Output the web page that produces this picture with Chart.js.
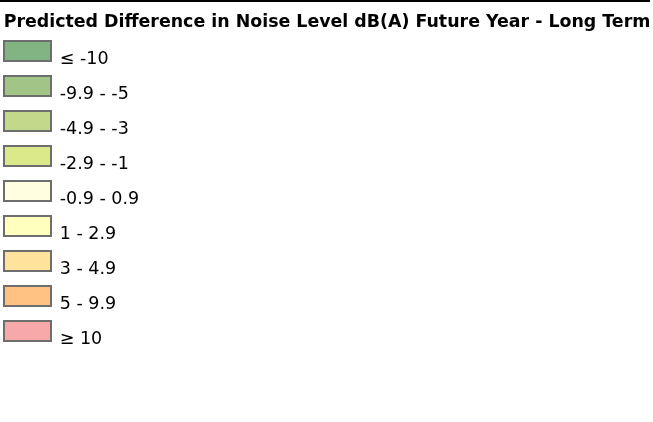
<!DOCTYPE html>
<html>
<head>
<meta charset="utf-8">
<script src="https://cdn.jsdelivr.net/npm/chart.js@4/dist/chart.umd.min.js"></script>
<style>
  html, body { margin: 0; padding: 0; background: #fff; overflow: hidden; }
  body { width: 653px; height: 422px; position: relative; }
  .linea-superior { position: absolute; left: 0; top: 0; width: 650px; height: 2px; background: #000; }
  .contenedor { position: absolute; left: -11px; top: 0; width: 676px; height: 422px; }
</style>
</head>
<body>
<div class="linea-superior"></div>
<div class="contenedor"><canvas id="leyenda"></canvas></div>
<script>
const titulo = 'Predicted Difference in Noise Level dB(A) Future Year - Long Term';

const clases = ['≤ -10', '-9.9 - -5', '-4.9 - -3', '-2.9 - -1', '-0.9 - 0.9', '1 - 2.9', '3 - 4.9', '5 - 9.9', '≥ 10'];

const coloresRelleno = ['#82b483', '#a3c487', '#c2d98b', '#dce98a', '#fffee0', '#ffffbe', '#ffe29c', '#ffc283', '#f7a9a9'];

const colorBorde = '#6e6e6e';

const fuenteEtiqueta = { family: 'DejaVu Sans', size: 17.5 };

const datasets = clases.map((clase, i) => ({
  label: clase,
  data: [],
  backgroundColor: coloresRelleno[i],
  borderColor: colorBorde,
  borderWidth: 2
}));

// el texto de la leyenda va un poco mas abajo que el centro de la caja (como en el mapa original)
const etiquetasLeyenda = {
  id: 'etiquetasLeyenda',
  afterDraw(chart) {
    const leyenda = chart.legend;
    const opts = leyenda.options.labels;
    const c = chart.ctx;
    c.save();
    c.font = Chart.helpers.toFont(fuenteEtiqueta).string;
    c.fillStyle = '#000';
    c.textAlign = 'left';
    c.textBaseline = 'alphabetic';
    leyenda.legendItems.forEach((item, i) => {
      const caja = leyenda.legendHitBoxes[i];
      c.fillText(item.text, caja.left + opts.boxWidth + fuenteEtiqueta.size / 2, caja.top + opts.boxHeight + 3);
    });
    c.restore();
  }
};

const ctx = document.getElementById('leyenda').getContext('2d');

new Chart(ctx, {
  type: 'bar',
  data: { labels: [], datasets },
  plugins: [etiquetasLeyenda],
  options: {
    responsive: true,
    maintainAspectRatio: false,
    animation: false,
    events: [],
    layout: { padding: 0 },
    scales: {
      x: { display: false },
      y: { display: false }
    },
    plugins: {
      tooltip: { enabled: false },
      title: {
        display: true,
        text: titulo,
        align: 'center',
        color: '#000',
        font: { family: 'DejaVu Sans', size: 17.4, weight: 'bold', lineHeight: 1 },
        padding: { top: 13.5, bottom: -4.9 }
      },
      legend: {
        display: true,
        position: 'left',
        align: 'start',
        fullSize: false,
        labels: {
          boxWidth: 47,
          boxHeight: 20,
          padding: 15,
          color: 'rgba(0,0,0,0)',
          font: fuenteEtiqueta
        }
      }
    }
  }
});
</script>
</body>
</html>
